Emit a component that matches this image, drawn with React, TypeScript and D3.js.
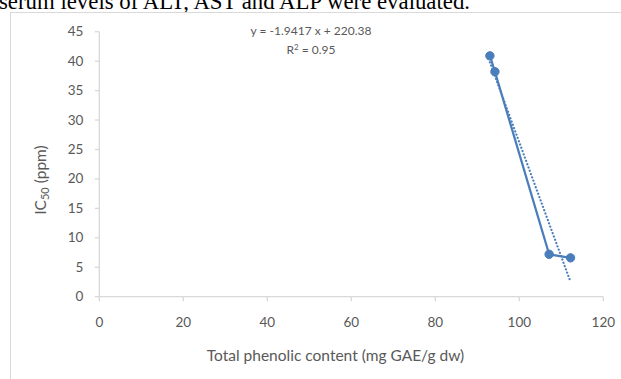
import React from "react";
import * as d3 from "d3";

const phenolic = [93.0, 94.2, 107.1, 112.2];
const ic50 = [40.9, 38.2, 7.2, 6.6];
const xTicks = [0, 20, 40, 60, 80, 100, 120];
const yTicks = [0, 5, 10, 15, 20, 25, 30, 35, 40, 45];
const slope = -1.9417;
const intercept = 220.38;
const eqText = "y = -1.9417  x + 220.38";
const r2Text = "0.95";

const W = 621;
const H = 379;
const FONT = "Lato, 'Open Sans', sans-serif";
const BLUE = "#4a7ebb";
const GRAY = "#595959";
const AXIS = "#d9d9d9";

export default function App() {
  const x = d3.scaleLinear().domain([0, 120]).range([99.3, 603.3]);
  const y = d3.scaleLinear().domain([0, 45]).range([296.7, 31.7]);
  const pts = phenolic.map((v, i) => [v, ic50[i]] as [number, number]);
  const line = d3
    .line<[number, number]>()
    .x((d) => x(d[0]))
    .y((d) => y(d[1]));
  const xMin = d3.min(phenolic) as number;
  const xMax = d3.max(phenolic) as number;
  const trend: [number, number][] = [
    [xMin, slope * xMin + intercept],
    [xMax, slope * xMax + intercept],
  ];
  const x0 = x(0);
  const y0 = y(0);
  return (
    <div style={{ position: "absolute", left: 0, top: 0 }}>
      <svg width={W} height={H} style={{ display: "block", background: "#fff" }}>
        <text
          x={-1}
          y={8.5}
          fontFamily="'Liberation Serif', 'Times New Roman', serif"
          fontSize={22.8}
          fill="#000"
        >
          serum levels of ALT, AST and ALP were evaluated.
        </text>
        <rect x={10.5} y={12.5} width={620} height={380} fill="#fff" stroke={AXIS} strokeWidth={1} />
        {/* axes */}
        <line x1={x0} x2={x(120)} y1={y0} y2={y0} stroke={AXIS} strokeWidth={1.3} />
        <line x1={x0} x2={x0} y1={y0} y2={y(45)} stroke={AXIS} strokeWidth={1.3} />
        {xTicks.map((t) => (
          <g key={"xt" + t}>
            <line x1={x(t)} x2={x(t)} y1={y0} y2={y0 + 4.5} stroke={AXIS} strokeWidth={1.3} />
            <text
              x={x(t)}
              y={y0 + 30}
              textAnchor="middle"
              fontFamily={FONT}
              fontSize={13.5}
              fill={GRAY}
            >
              {t}
            </text>
          </g>
        ))}
        {yTicks.map((t) => (
          <g key={"yt" + t}>
            <line x1={x0 - 4.5} x2={x0} y1={y(t)} y2={y(t)} stroke={AXIS} strokeWidth={1.3} />
            <text
              x={x0 - 16}
              y={y(t) + 4.5}
              textAnchor="end"
              fontFamily={FONT}
              fontSize={13.5}
              fill={GRAY}
            >
              {t}
            </text>
          </g>
        ))}
        {/* axis titles */}
        <text
          x={335.5}
          y={361}
          textAnchor="middle"
          fontFamily={FONT}
          fontSize={15.5}
          fill={GRAY}
        >
          Total phenolic content (mg GAE/g dw)
        </text>
        <text
          transform="translate(46,180) rotate(-90)"
          textAnchor="middle"
          fontFamily={FONT}
          fontSize={15.5}
          fill={GRAY}
        >
          IC
          <tspan fontSize={11} dy={3}>50</tspan>
          <tspan dy={-3}> (ppm)</tspan>
        </text>
        {/* equation */}
        <text x={311} y={35} textAnchor="middle" fontFamily={FONT} fontSize={12} fill={GRAY}>
          {eqText}
        </text>
        <text x={311} y={54} textAnchor="middle" fontFamily={FONT} fontSize={12} fill={GRAY}>
          R
          <tspan fontSize={8} dy={-4}>2</tspan>
          <tspan dy={4}>{" = " + r2Text}</tspan>
        </text>
        {/* data line */}
        <path d={line(pts) || ""} fill="none" stroke={BLUE} strokeWidth={2.25} strokeLinejoin="round" />
        {/* trendline */}
        <path
          d={line(trend) || ""}
          fill="none"
          stroke={BLUE}
          strokeWidth={2.2}
          strokeDasharray="0.1 3.4"
          strokeLinecap="round"
        />
        {pts.map((p, i) => (
          <circle key={i} cx={x(p[0])} cy={y(p[1])} r={4.2} fill={BLUE} stroke={BLUE} strokeWidth={1} />
        ))}
      </svg>
    </div>
  );
}
